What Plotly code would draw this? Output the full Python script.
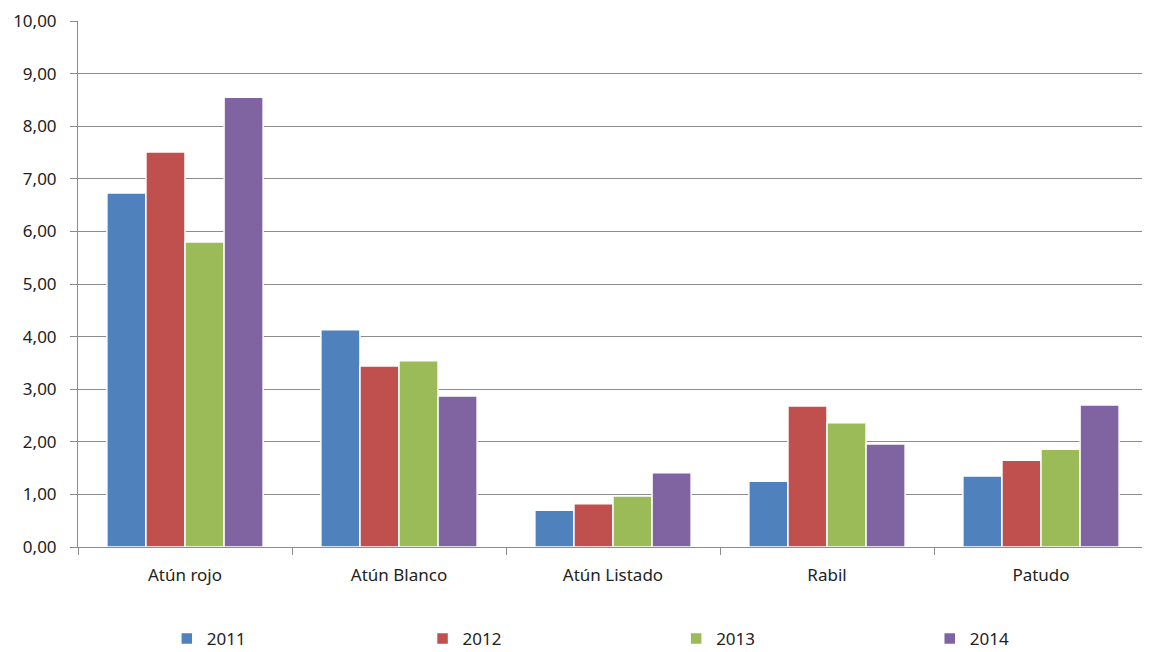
import plotly.graph_objects as go

categories = ["Atún rojo", "Atún Blanco", "Atún Listado", "Rabil", "Patudo"]
years = ["2011", "2012", "2013", "2014"]
v2011 = [6.73, 4.13, 0.70, 1.25, 1.35]
v2012 = [7.51, 3.44, 0.82, 2.68, 1.65]
v2013 = [5.80, 3.54, 0.97, 2.36, 1.86]
v2014 = [8.55, 2.87, 1.41, 1.96, 2.70]
colors = ["#4F81BD", "#C0504D", "#9BBB59", "#8064A2"]

font = "Noto Sans"
legend_names = ["legend", "legend2", "legend3", "legend4"]
legend_x = [0.083, 0.322, 0.559, 0.796]

fig = go.Figure()
for name, vals, c, lg in zip(years, [v2011, v2012, v2013, v2014], colors, legend_names):
    fig.add_trace(go.Bar(x=categories, y=vals, name=name, marker_color=c,
                         marker_line_color="white", marker_line_width=1.5,
                         legend=lg))

legend_cfg = {}
for lg, lx in zip(legend_names, legend_x):
    legend_cfg[lg] = dict(orientation="h", x=lx, xanchor="left", y=-0.175,
                          yanchor="middle", font=dict(size=17, color="#222222"),
                          itemwidth=30, bgcolor="rgba(0,0,0,0)")

# page body has an 8px margin, so the figure is 8px smaller and margins shifted
fig.update_layout(
    width=1142, height=644,
    margin=dict(l=70, r=2, t=13, b=105, autoexpand=False),
    paper_bgcolor="white", plot_bgcolor="white",
    barmode="group", bargap=0.27, bargroupgap=0.0,
    font=dict(family=font, size=17, color="#222222"),
    separators=",.",
    showlegend=True,
    **legend_cfg,
)
fig.update_yaxes(range=[0, 10], dtick=1, tickformat=".2f",
                 tickfont=dict(size=17, color="#222222"), automargin=False,
                 showgrid=True, gridcolor="#8C8C8C", gridwidth=1,
                 showline=True, linecolor="#8C8C8C", linewidth=1,
                 ticks="outside", ticklen=7, tickcolor="#8C8C8C", zeroline=False,
                 ticklabelstandoff=10)
fig.update_xaxes(showline=True, linecolor="#8C8C8C", linewidth=1, automargin=False,
                 tickfont=dict(size=17, color="#222222"),
                 ticks="outside", tickson="boundaries", ticklen=7, tickcolor="#8C8C8C",
                 ticklabelstandoff=13)
fig.write_html("out.html")
